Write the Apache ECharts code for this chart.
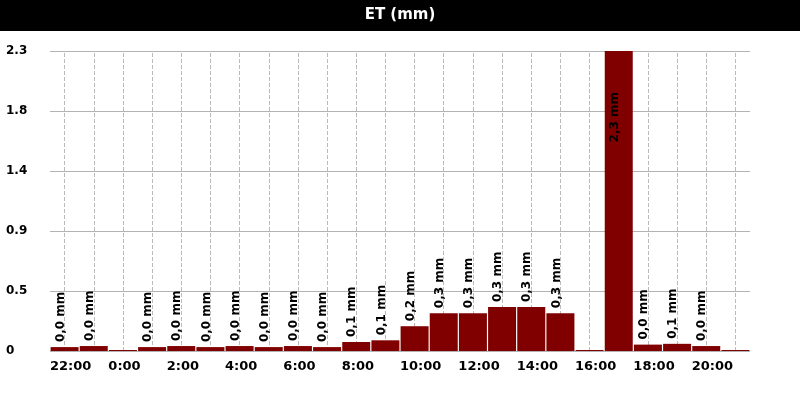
<!DOCTYPE html>
<html>
<head>
<meta charset="utf-8">
<script src="https://cdn.jsdelivr.net/npm/echarts@6/dist/echarts.min.js"></script>
<style>html,body{margin:0;padding:0;background:#fff}#c{width:800px;height:400px}</style>
</head>
<body>
<div id="c"></div>
<script>
const titleText = 'ET (mm)';
const hours = ['22:00','23:00','0:00','1:00','2:00','3:00','4:00','5:00','6:00','7:00','8:00','9:00',
               '10:00','11:00','12:00','13:00','14:00','15:00','16:00','17:00','18:00','19:00','20:00','21:00'];
const etValues = [0.03,0.038,0,0.03,0.038,0.03,0.038,0.03,0.038,0.03,0.069,0.082,
                  0.19,0.29,0.29,0.337,0.337,0.29,0,2.3,0.049,0.055,0.038,0];
const yMax = 2.3;
const yInterval = 0.46;

const font = 'DejaVu Sans';
const fmt = v => v.toFixed(1).replace('.', ',') + ' mm';

const chart = echarts.init(document.getElementById('c'), null, {renderer: 'canvas'});
chart.setOption({
  animation: false,
  backgroundColor: '#fff',
  graphic: [
    {type: 'rect', left: 0, top: 0, shape: {width: 800, height: 31}, style: {fill: '#000'}, z: 0},
    {type: 'text', left: 'center', top: 8, style: {text: titleText, fill: '#fff', font: 'bold 15px "' + font + '"'}, z: 1}
  ],
  grid: {left: 50, right: 50, top: 51, bottom: 49},
  xAxis: [
    {type: 'category', data: hours, position: 'bottom',
     axisLine: {show: false}, axisTick: {show: false}, axisLabel: {show: false}, splitLine: {show: false}},
    {type: 'value', min: 0, max: hours.length, interval: 2, position: 'bottom',
     axisLine: {show: false}, axisTick: {show: false}, splitLine: {show: false},
     axisLabel: {align: 'left', margin: 9, color: '#000', fontFamily: font, fontWeight: 'bold', fontSize: 13,
       showMaxLabel: false,
       formatter: v => hours[v] !== undefined ? hours[v] : ''}}
  ],
  yAxis: {
    type: 'value', min: 0, max: yMax, interval: yInterval,
    axisLine: {show: false}, axisTick: {show: false},
    splitLine: {lineStyle: {color: '#b3b3b3', width: 1}},
    axisLabel: {align: 'left', margin: 44, color: '#000', fontFamily: font, fontWeight: 'bold', fontSize: 12,
      formatter: v => v === 0 ? '0' : v.toFixed(1)}
  },
  series: [{
    type: 'bar',
    xAxisIndex: 0,
    barCategoryGap: '4%',
    barMinHeight: 1,
    itemStyle: {color: '#800000'},
    data: etValues.map(v => {
      const inside = v > yMax * 0.7;
      return {
        value: v,
        label: {
          show: v > 0,
          position: inside ? 'insideTop' : 'top',
          distance: inside ? 41 : 5,
          rotate: 90,
          offset: [0, -4],
          align: inside ? 'right' : 'left',
          verticalAlign: 'middle',
          formatter: () => fmt(v),
          color: '#000', fontFamily: font, fontWeight: 'bold', fontSize: 12
        }
      };
    }),
    markLine: {
      silent: true, symbol: 'none', z: 1,
      label: {show: false},
      lineStyle: {type: 'dashed', color: '#bbbbbb', width: 1},
      data: hours.map(h => ({xAxis: h}))
    }
  }]
});
</script>
</body>
</html>
